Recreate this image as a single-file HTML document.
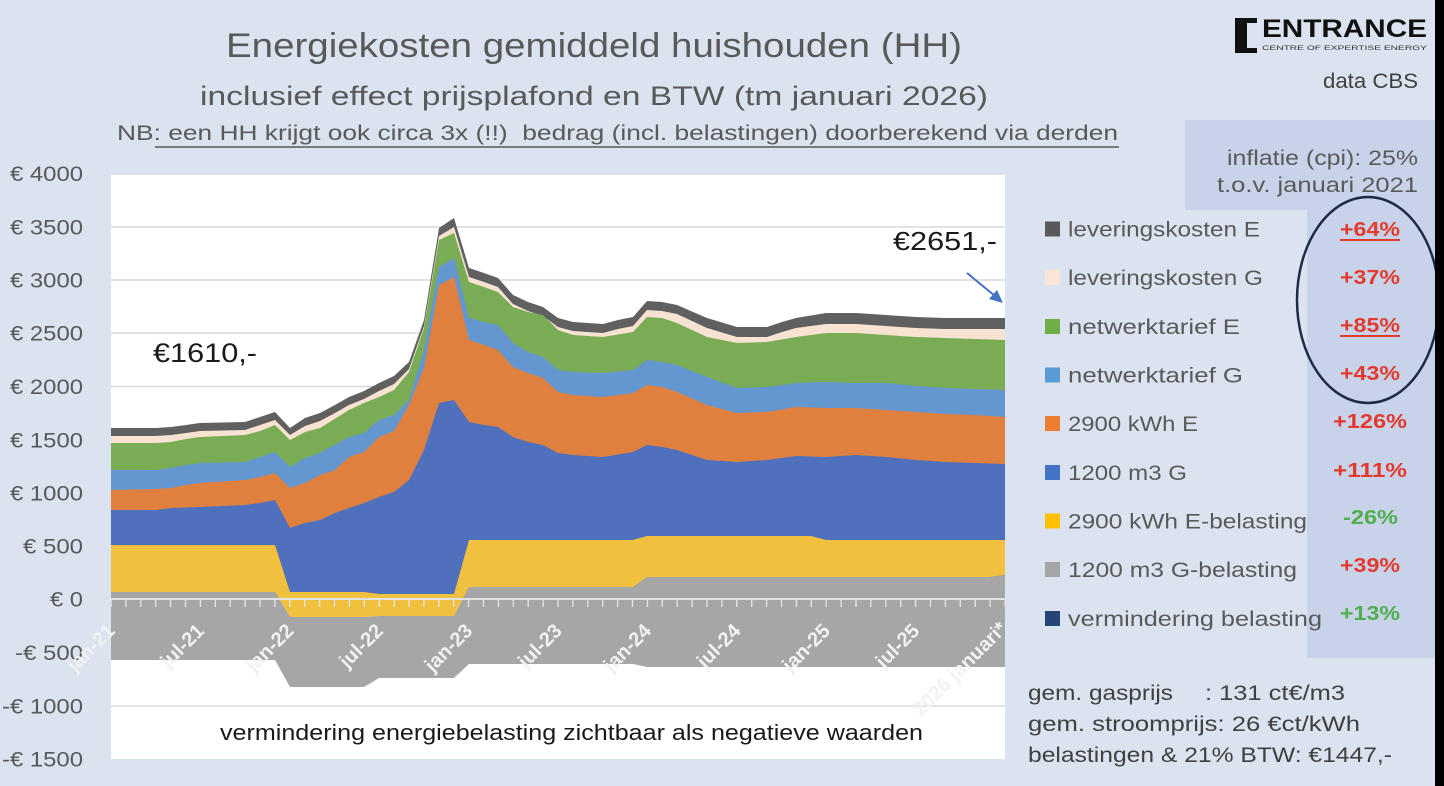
<!DOCTYPE html>
<html>
<head>
<meta charset="utf-8">
<style>
  html,body{margin:0;padding:0;background:#dbe3f0;}
  svg{display:block;}
  text{font-family:"Liberation Sans", sans-serif;}
</style>
</head>
<body>
<svg width="1444" height="786" viewBox="0 0 1444 786" xmlns="http://www.w3.org/2000/svg">
  <!-- background -->
  <rect x="0" y="0" width="1444" height="786" fill="#dbe3f0"/>

  <!-- Titles -->
  <text x="226" y="57" font-size="34" fill="#595959" textLength="736" lengthAdjust="spacingAndGlyphs">Energiekosten gemiddeld huishouden (HH)</text>
  <text x="200" y="105" font-size="27" fill="#595959" textLength="788" lengthAdjust="spacingAndGlyphs">inclusief effect prijsplafond en BTW (tm januari 2026)</text>
  <text x="117" y="140" font-size="21" fill="#595959" textLength="1001" lengthAdjust="spacingAndGlyphs" style="white-space:pre">NB: een HH krijgt ook circa 3x (!!)  bedrag (incl. belastingen) doorberekend via derden</text>
  <line x1="155" y1="147" x2="1119" y2="147" stroke="#595959" stroke-width="1.5"/>

  <!-- Logo -->
  <path d="M1235,18 L1257,18 L1257,23 L1247,23 L1247,48 L1257,48 L1257,53 L1235,53 Z" fill="#111"/>
  <text x="1262" y="37" font-size="25" font-weight="bold" fill="#111" textLength="165" lengthAdjust="spacingAndGlyphs">ENTRANCE</text>
  <text x="1262" y="50" font-size="6.5" fill="#333" textLength="165" lengthAdjust="spacingAndGlyphs">CENTRE OF EXPERTISE ENERGY</text>
  <text x="1323" y="88" font-size="21" fill="#404040" textLength="95" lengthAdjust="spacingAndGlyphs">data CBS</text>

  <!-- inflation box + percentage column -->
  <rect x="1185" y="120" width="250" height="90" fill="#c8d3e9"/>
  <rect x="1307" y="198" width="128" height="460" fill="#c8d3e9"/>
  <text x="1227" y="165" font-size="21" fill="#595959" textLength="191" lengthAdjust="spacingAndGlyphs">inflatie (cpi): 25%</text>
  <text x="1217" y="192" font-size="21" fill="#595959" textLength="201" lengthAdjust="spacingAndGlyphs">t.o.v. januari 2021</text>

  <!-- Plot area -->
  <rect x="111" y="174" width="894" height="585" fill="#ffffff"/>
  <g stroke="#d9d9d9" stroke-width="1.5">
    <line x1="111" y1="174" x2="1005" y2="174"/>
    <line x1="111" y1="227" x2="1005" y2="227"/>
    <line x1="111" y1="280" x2="1005" y2="280"/>
    <line x1="111" y1="333" x2="1005" y2="333"/>
    <line x1="111" y1="386.5" x2="1005" y2="386.5"/>
    <line x1="111" y1="440" x2="1005" y2="440"/>
    <line x1="111" y1="493" x2="1005" y2="493"/>
    <line x1="111" y1="546" x2="1005" y2="546"/>
    <line x1="111" y1="652.5" x2="1005" y2="652.5"/>
    <line x1="111" y1="706" x2="1005" y2="706"/>
  </g>

  <!-- stacked areas (painter order) -->
  <polygon fill="#606060" points="111,428 156,428 171,427 186,425 200,423 245,422 260,417 275,412 290,428 305,418 320,413 335,405 349,397 364,391 379,383 394,376 409,362 424,320 439,228 454,218 469,268 484,273 498,278 513,295 528,302 543,307 558,318 573,322 603,324 618,320 633,317 647,301 662,302 677,305 707,318 737,327 767,327 782,322 796,318 826,313 856,313 886,315 916,317 945,318 1005,318 1005,599 111,599"/>
  <polygon fill="#f8e3d3" points="111,436 156,436 171,435 186,433 200,431 245,430 260,425 275,420 290,435 305,426 320,421 335,413 349,405 364,399 379,391 394,384 409,369 424,326 439,236 454,227 469,277 484,282 498,287 513,304 528,311 543,316 558,327 573,331 603,333 618,329 633,326 647,310 662,311 677,314 707,328 737,337 767,337 782,332 796,328 826,324 856,324 886,326 916,328 945,329 1005,329 1005,599 111,599"/>
  <polygon fill="#7aac56" points="111,443 156,443 171,442 186,439 200,437 245,435 260,431 275,425 290,440 305,432 320,428 349,410 364,403 379,397 394,390 409,372 424,328 439,240 454,233 469,282 484,287 498,292 513,307 528,312 543,315 558,330 573,335 603,337 633,332 647,317 662,318 677,323 707,337 737,343 767,342 796,337 826,333 856,333 886,335 916,337 945,338 975,339 1005,340 1005,599 111,599"/>
  <polygon fill="#6497d0" points="111,470 156,470 171,468 186,465 200,463 245,462 260,457 275,452 290,467 305,458 320,453 349,437 364,433 379,420 394,415 409,400 424,350 439,267 454,258 469,318 484,322 498,325 513,343 528,352 543,357 558,370 573,372 603,373 633,370 647,360 662,362 677,365 707,377 737,388 767,387 796,383 826,382 856,383 886,383 916,386 945,388 975,389 1005,390 1005,599 111,599"/>
  <polygon fill="#e0803f" points="111,490 156,489 171,488 186,485 200,483 245,480 260,477 275,473 290,488 305,483 320,475 335,470 349,457 364,452 379,437 394,431 409,405 424,368 439,285 454,277 469,340 484,345 498,350 513,367 528,373 543,378 558,392 573,395 603,397 633,393 647,385 662,387 677,392 707,405 737,413 767,412 796,407 826,408 856,408 886,410 916,412 945,414 975,415 1005,417 1005,599 111,599"/>
  <polygon fill="#4e70bd" points="111,510 156,510 171,508 200,507 245,505 260,503 275,500 290,528 305,523 320,520 335,513 349,508 364,503 379,497 394,492 409,480 424,450 439,403 454,400 469,422 484,425 498,427 513,437 528,442 543,445 558,453 573,455 603,457 633,452 647,445 662,447 677,450 707,460 737,462 767,460 796,456 826,457 856,455 886,457 916,460 945,462 975,463 1005,464 1005,599 111,599"/>
  <polygon fill="#f2c03f" points="111,545 275,545 290,592 364,592 379,594 454,594 469,540 633,540 647,536 811,536 826,540 1005,540 1005,575 990,577 647,577 633,587 469,587 454,616 379,616 364,617 290,617 275,592 111,592"/>
  <polygon fill="#a6a6a6" points="111,592 275,592 290,617 364,617 379,616 454,616 469,587 633,587 647,577 990,577 1005,575 1005,667 647,667 633,664 469,664 454,678 379,678 364,687 290,687 275,660 111,660"/>

  <!-- zero axis + ticks -->
  <line x1="111" y1="599" x2="1005" y2="599" stroke="#e3e3e3" stroke-width="2"/>
  <g stroke="#e3e3e3" stroke-width="1.4">
    <line x1="111" y1="599" x2="111" y2="607"/><line x1="125.9" y1="599" x2="125.9" y2="607"/><line x1="140.8" y1="599" x2="140.8" y2="607"/><line x1="155.7" y1="599" x2="155.7" y2="607"/><line x1="170.6" y1="599" x2="170.6" y2="607"/><line x1="185.5" y1="599" x2="185.5" y2="607"/><line x1="200.4" y1="599" x2="200.4" y2="607"/><line x1="215.3" y1="599" x2="215.3" y2="607"/><line x1="230.2" y1="599" x2="230.2" y2="607"/><line x1="245.1" y1="599" x2="245.1" y2="607"/>
    <line x1="260" y1="599" x2="260" y2="607"/><line x1="274.9" y1="599" x2="274.9" y2="607"/><line x1="289.8" y1="599" x2="289.8" y2="607"/><line x1="304.7" y1="599" x2="304.7" y2="607"/><line x1="319.6" y1="599" x2="319.6" y2="607"/><line x1="334.5" y1="599" x2="334.5" y2="607"/><line x1="349.4" y1="599" x2="349.4" y2="607"/><line x1="364.3" y1="599" x2="364.3" y2="607"/><line x1="379.2" y1="599" x2="379.2" y2="607"/><line x1="394.1" y1="599" x2="394.1" y2="607"/>
    <line x1="409" y1="599" x2="409" y2="607"/><line x1="423.9" y1="599" x2="423.9" y2="607"/><line x1="438.8" y1="599" x2="438.8" y2="607"/><line x1="453.7" y1="599" x2="453.7" y2="607"/><line x1="468.6" y1="599" x2="468.6" y2="607"/><line x1="483.5" y1="599" x2="483.5" y2="607"/><line x1="498.4" y1="599" x2="498.4" y2="607"/><line x1="513.3" y1="599" x2="513.3" y2="607"/><line x1="528.2" y1="599" x2="528.2" y2="607"/><line x1="543.1" y1="599" x2="543.1" y2="607"/>
    <line x1="558" y1="599" x2="558" y2="607"/><line x1="572.9" y1="599" x2="572.9" y2="607"/><line x1="587.8" y1="599" x2="587.8" y2="607"/><line x1="602.7" y1="599" x2="602.7" y2="607"/><line x1="617.6" y1="599" x2="617.6" y2="607"/><line x1="632.5" y1="599" x2="632.5" y2="607"/><line x1="647.4" y1="599" x2="647.4" y2="607"/><line x1="662.3" y1="599" x2="662.3" y2="607"/><line x1="677.2" y1="599" x2="677.2" y2="607"/><line x1="692.1" y1="599" x2="692.1" y2="607"/>
    <line x1="707" y1="599" x2="707" y2="607"/><line x1="721.9" y1="599" x2="721.9" y2="607"/><line x1="736.8" y1="599" x2="736.8" y2="607"/><line x1="751.7" y1="599" x2="751.7" y2="607"/><line x1="766.6" y1="599" x2="766.6" y2="607"/><line x1="781.5" y1="599" x2="781.5" y2="607"/><line x1="796.4" y1="599" x2="796.4" y2="607"/><line x1="811.3" y1="599" x2="811.3" y2="607"/><line x1="826.2" y1="599" x2="826.2" y2="607"/><line x1="841.1" y1="599" x2="841.1" y2="607"/>
    <line x1="856" y1="599" x2="856" y2="607"/><line x1="870.9" y1="599" x2="870.9" y2="607"/><line x1="885.8" y1="599" x2="885.8" y2="607"/><line x1="900.7" y1="599" x2="900.7" y2="607"/><line x1="915.6" y1="599" x2="915.6" y2="607"/><line x1="930.5" y1="599" x2="930.5" y2="607"/><line x1="945.4" y1="599" x2="945.4" y2="607"/><line x1="960.3" y1="599" x2="960.3" y2="607"/><line x1="975.2" y1="599" x2="975.2" y2="607"/><line x1="990.1" y1="599" x2="990.1" y2="607"/><line x1="1005" y1="599" x2="1005" y2="607"/>
  </g>

  <!-- y axis labels -->
  <g font-size="21" fill="#595959">
    <text x="10" y="181" textLength="73" lengthAdjust="spacingAndGlyphs">€ 4000</text>
    <text x="10" y="234.5" textLength="73" lengthAdjust="spacingAndGlyphs">€ 3500</text>
    <text x="10" y="287.5" textLength="73" lengthAdjust="spacingAndGlyphs">€ 3000</text>
    <text x="10" y="340.5" textLength="73" lengthAdjust="spacingAndGlyphs">€ 2500</text>
    <text x="10" y="394" textLength="73" lengthAdjust="spacingAndGlyphs">€ 2000</text>
    <text x="10" y="447.5" textLength="73" lengthAdjust="spacingAndGlyphs">€ 1500</text>
    <text x="10" y="500.5" textLength="73" lengthAdjust="spacingAndGlyphs">€ 1000</text>
    <text x="23" y="553.5" textLength="60" lengthAdjust="spacingAndGlyphs">€ 500</text>
    <text x="50" y="606.5" textLength="33" lengthAdjust="spacingAndGlyphs">€ 0</text>
    <text x="15" y="660" textLength="68" lengthAdjust="spacingAndGlyphs">-€ 500</text>
    <text x="2" y="713.5" textLength="81" lengthAdjust="spacingAndGlyphs">-€ 1000</text>
    <text x="2" y="766.5" textLength="81" lengthAdjust="spacingAndGlyphs">-€ 1500</text>
  </g>

  <!-- x axis labels -->
  <g font-size="20" font-weight="bold" fill="#f2f2f2" text-anchor="end">
    <text x="116" y="632" transform="rotate(-45 116 632)">jan-21</text>
    <text x="205.4" y="632" transform="rotate(-45 205.4 632)">jul-21</text>
    <text x="294.8" y="632" transform="rotate(-45 294.8 632)">jan-22</text>
    <text x="384.2" y="632" transform="rotate(-45 384.2 632)">jul-22</text>
    <text x="473.6" y="632" transform="rotate(-45 473.6 632)">jan-23</text>
    <text x="563" y="632" transform="rotate(-45 563 632)">jul-23</text>
    <text x="652.4" y="632" transform="rotate(-45 652.4 632)">jan-24</text>
    <text x="741.8" y="632" transform="rotate(-45 741.8 632)">jul-24</text>
    <text x="831.2" y="632" transform="rotate(-45 831.2 632)">jan-25</text>
    <text x="920.6" y="632" transform="rotate(-45 920.6 632)">jul-25</text>
    <text x="1008" y="630" transform="rotate(-45 1008 630)">2026 januari*</text>
  </g>

  <!-- annotations in plot -->
  <text x="153" y="362" font-size="27" fill="#1a1a1a" textLength="104" lengthAdjust="spacingAndGlyphs">€1610,-</text>
  <text x="893" y="250" font-size="26" fill="#1a1a1a" textLength="104" lengthAdjust="spacingAndGlyphs">€2651,-</text>
  <line x1="967" y1="273" x2="995" y2="296" stroke="#4472c4" stroke-width="2"/>
  <polygon points="1003,303 989,299 997,290" fill="#4472c4"/>
  <text x="220" y="740" font-size="22" fill="#1a1a1a" textLength="703" lengthAdjust="spacingAndGlyphs">vermindering energiebelasting zichtbaar als negatieve waarden</text>

  <!-- Legend -->
  <rect x="1045" y="221.5" width="15" height="15" fill="#595959"/>
  <rect x="1045" y="270" width="15" height="15" fill="#fbe5d6"/>
  <rect x="1045" y="319" width="15" height="15" fill="#70ad47"/>
  <rect x="1045" y="367.5" width="15" height="15" fill="#5b9bd5"/>
  <rect x="1045" y="416" width="15" height="15" fill="#ed7d31"/>
  <rect x="1045" y="465" width="15" height="15" fill="#4472c4"/>
  <rect x="1045" y="513.5" width="15" height="15" fill="#ffc000"/>
  <rect x="1045" y="562" width="15" height="15" fill="#a5a5a5"/>
  <rect x="1045" y="611" width="15" height="15" fill="#264478"/>
  <g font-size="21" fill="#595959">
    <text x="1068" y="236.5" textLength="192" lengthAdjust="spacingAndGlyphs">leveringskosten E</text>
    <text x="1068" y="285" textLength="195" lengthAdjust="spacingAndGlyphs">leveringskosten G</text>
    <text x="1068" y="334" textLength="172" lengthAdjust="spacingAndGlyphs">netwerktarief E</text>
    <text x="1068" y="382.5" textLength="175" lengthAdjust="spacingAndGlyphs">netwerktarief G</text>
    <text x="1068" y="431" textLength="130" lengthAdjust="spacingAndGlyphs">2900 kWh E</text>
    <text x="1068" y="480" textLength="119" lengthAdjust="spacingAndGlyphs">1200 m3 G</text>
    <text x="1068" y="528.5" textLength="239" lengthAdjust="spacingAndGlyphs">2900 kWh E-belasting</text>
    <text x="1068" y="577" textLength="229" lengthAdjust="spacingAndGlyphs">1200 m3 G-belasting</text>
    <text x="1068" y="626" textLength="254" lengthAdjust="spacingAndGlyphs">vermindering belasting</text>
  </g>

  <!-- percentages -->
  <g font-size="20" font-weight="bold">
    <text x="1340" y="236" fill="#e23b2e" textLength="60" lengthAdjust="spacingAndGlyphs">+64%</text>
    <line x1="1340" y1="240" x2="1400" y2="240" stroke="#e23b2e" stroke-width="2"/>
    <text x="1340" y="284" fill="#e23b2e" textLength="60" lengthAdjust="spacingAndGlyphs">+37%</text>
    <text x="1340" y="332" fill="#e23b2e" textLength="60" lengthAdjust="spacingAndGlyphs">+85%</text>
    <line x1="1340" y1="336" x2="1400" y2="336" stroke="#e23b2e" stroke-width="2"/>
    <text x="1340" y="380" fill="#e23b2e" textLength="60" lengthAdjust="spacingAndGlyphs">+43%</text>
    <text x="1333" y="428" fill="#e23b2e" textLength="74" lengthAdjust="spacingAndGlyphs">+126%</text>
    <text x="1333" y="477" fill="#e23b2e" textLength="74" lengthAdjust="spacingAndGlyphs">+111%</text>
    <text x="1343" y="524" fill="#4fae4e" textLength="55" lengthAdjust="spacingAndGlyphs">-26%</text>
    <text x="1340" y="572" fill="#e23b2e" textLength="60" lengthAdjust="spacingAndGlyphs">+39%</text>
    <text x="1340" y="620" fill="#4fae4e" textLength="60" lengthAdjust="spacingAndGlyphs">+13%</text>
  </g>

  <!-- ellipse -->
  <ellipse cx="1368" cy="300" rx="71" ry="103" fill="none" stroke="#1c2a4c" stroke-width="2.5"/>

  <!-- bottom-right text -->
  <g font-size="21" fill="#404040">
    <text x="1028" y="700" textLength="145" lengthAdjust="spacingAndGlyphs">gem. gasprijs</text>
    <text x="1205" y="700" textLength="140" lengthAdjust="spacingAndGlyphs">: 131 ct€/m3</text>
    <text x="1028" y="731" textLength="332" lengthAdjust="spacingAndGlyphs">gem. stroomprijs: 26 €ct/kWh</text>
    <text x="1028" y="762" textLength="364" lengthAdjust="spacingAndGlyphs">belastingen &amp; 21% BTW: €1447,-</text>
  </g>

  <!-- right black strip -->
  <rect x="1435" y="0" width="9" height="786" fill="#000"/>
</svg>
</body>
</html>
